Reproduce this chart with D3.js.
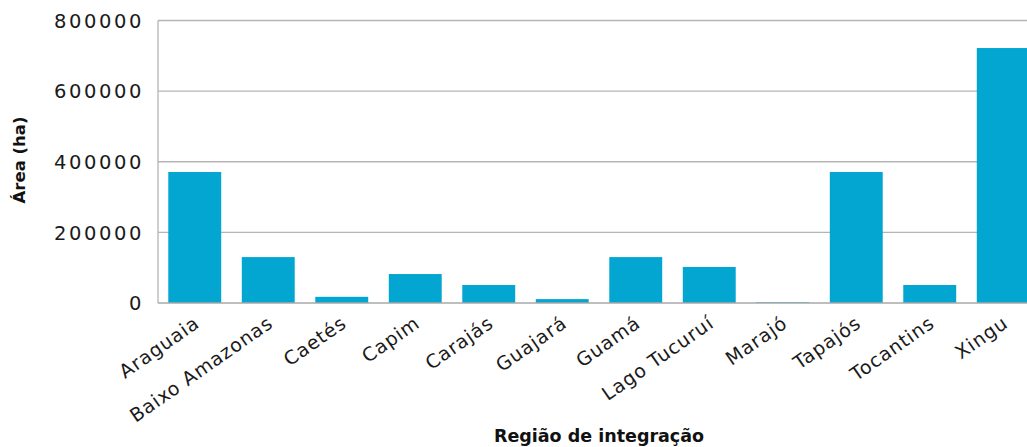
<!DOCTYPE html>
<html><head><meta charset="utf-8">
<script src="https://cdn.jsdelivr.net/npm/d3@7"></script>
<style>body{margin:0;background:#fff;} svg{display:block;font-family:"DejaVu Sans",sans-serif;}</style>
</head><body>
<svg id="c" width="1027" height="447"></svg>
<script>
const categories = ["Araguaia","Baixo Amazonas","Caetés","Capim","Carajás","Guajará","Guamá","Lago Tucuruí","Marajó","Tapajós","Tocantins","Xingu"];
const values = [371000,130000,17500,82000,51000,11000,130000,102000,2000,371000,51000,722000];
const yTicks = [0,200000,400000,600000,800000];
const yTitle = "Área (ha)";
const xTitle = "Região de integração";

const svg = d3.select("#c");
const pLeft = 158, pRight = 1040, pTop = 20.5, pBottom = 303;
const x = d3.scaleBand().domain(categories).range([pLeft,pRight]).paddingInner(0.28).paddingOuter(0.14);
const y = d3.scaleLinear().domain([0,800000]).range([pBottom,pTop]);

// gridlines
svg.append("g").selectAll("line").data(yTicks.filter(d=>d>0)).join("line")
  .attr("x1",pLeft).attr("x2",1027).attr("y1",d=>y(d)).attr("y2",d=>y(d))
  .attr("stroke","#b5b5b5").attr("stroke-width",1.3);

// bars
svg.append("g").selectAll("rect").data(categories).join("rect")
  .attr("x",d=>x(d)).attr("width",x.bandwidth())
  .attr("y",(d,i)=>y(values[i])).attr("height",(d,i)=>pBottom-y(values[i]))
  .attr("fill","#03a5d1");

// axes lines
svg.append("line").attr("x1",pLeft).attr("x2",pLeft).attr("y1",pTop).attr("y2",pBottom).attr("stroke","#b5b5b5").attr("stroke-width",1.3);
svg.append("line").attr("x1",pLeft).attr("x2",1027).attr("y1",pBottom).attr("y2",pBottom).attr("stroke","#a8a8a8").attr("stroke-width",1.5);

// y tick labels
const yAxis = d3.axisLeft(y).tickValues(yTicks).tickSize(0).tickPadding(14).tickFormat(d=>String(d));
const ga = svg.append("g").attr("transform",`translate(${pLeft},0)`).call(yAxis);
ga.select(".domain").remove();
ga.selectAll("text").attr("font-size",19.5).attr("fill","#1a1a1a").attr("font-family","DejaVu Sans").attr("letter-spacing","2.6px").attr("dy","0.35em");

// x labels
const xAxis = d3.axisBottom(x).tickSize(0).tickPadding(0);
const gx = svg.append("g").attr("transform",`translate(0,${pBottom})`).call(xAxis);
gx.select(".domain").remove();
gx.selectAll("text").attr("font-size",19).attr("fill","#1a1a1a").attr("font-family","DejaVu Sans")
  .attr("letter-spacing","0.9px")
  .attr("text-anchor","end").attr("y",0).attr("dy",0)
  .attr("transform","translate(6,23) rotate(-35)");

// titles
svg.append("text").attr("transform","translate(25,160) rotate(-90)").attr("text-anchor","middle")
  .attr("font-size",16.5).attr("font-weight","bold").attr("fill","#111").text(yTitle);
svg.append("text").attr("x",599).attr("y",442).attr("text-anchor","middle")
  .attr("font-size",17.5).attr("font-weight","bold").attr("fill","#111").text(xTitle);
</script>
</body></html>
